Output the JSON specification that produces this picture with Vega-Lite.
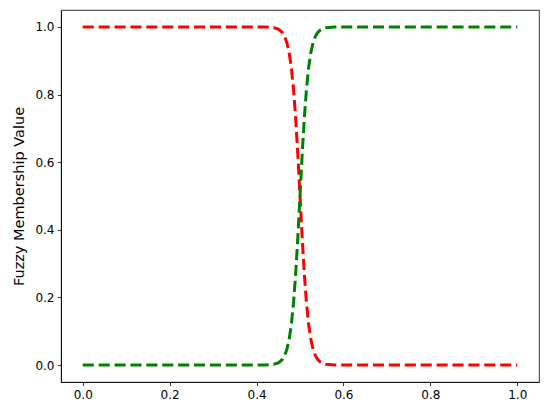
{
  "$schema": "https://vega.github.io/schema/vega-lite/v6.json",
  "width": 478,
  "height": 372,
  "autosize": "none",
  "padding": {"left": 61, "top": 10, "right": 11, "bottom": 32},
  "background": "white",
  "config": {
    "view": {"stroke": "black", "strokeWidth": 0.8},
    "axis": {
      "grid": false,
      "domainColor": "black",
      "domainWidth": 0.8,
      "tickColor": "black",
      "tickWidth": 0.8,
      "tickSize": 3.5,
      "labelPadding": 3.5,
      "labelFont": "DejaVu Sans",
      "labelFontSize": 12,
      "labelColor": "black",
      "titleFont": "DejaVu Sans",
      "titleFontSize": 14.5,
      "titleFontWeight": "normal",
      "titleColor": "black"
    }
  },
  "data": {
    "values": [
      {"x": 0.0, "low": 1.0, "high": 0.0},
      {"x": 0.1, "low": 1.0, "high": 0.0},
      {"x": 0.2, "low": 1.0, "high": 0.0},
      {"x": 0.3, "low": 1.0, "high": 0.0},
      {"x": 0.4, "low": 1.0, "high": 0.0},
      {"x": 0.42, "low": 0.9997, "high": 0.0003},
      {"x": 0.44, "low": 0.9975, "high": 0.0025},
      {"x": 0.45, "low": 0.9933, "high": 0.0067},
      {"x": 0.455, "low": 0.989, "high": 0.011},
      {"x": 0.46, "low": 0.982, "high": 0.018},
      {"x": 0.465, "low": 0.9707, "high": 0.0293},
      {"x": 0.47, "low": 0.9526, "high": 0.0474},
      {"x": 0.475, "low": 0.9241, "high": 0.0759},
      {"x": 0.48, "low": 0.8808, "high": 0.1192},
      {"x": 0.485, "low": 0.8176, "high": 0.1824},
      {"x": 0.49, "low": 0.7311, "high": 0.2689},
      {"x": 0.495, "low": 0.6225, "high": 0.3775},
      {"x": 0.5, "low": 0.5, "high": 0.5},
      {"x": 0.505, "low": 0.3775, "high": 0.6225},
      {"x": 0.51, "low": 0.2689, "high": 0.7311},
      {"x": 0.515, "low": 0.1824, "high": 0.8176},
      {"x": 0.52, "low": 0.1192, "high": 0.8808},
      {"x": 0.525, "low": 0.0759, "high": 0.9241},
      {"x": 0.53, "low": 0.0474, "high": 0.9526},
      {"x": 0.535, "low": 0.0293, "high": 0.9707},
      {"x": 0.54, "low": 0.018, "high": 0.982},
      {"x": 0.545, "low": 0.011, "high": 0.989},
      {"x": 0.55, "low": 0.0067, "high": 0.9933},
      {"x": 0.56, "low": 0.0025, "high": 0.9975},
      {"x": 0.58, "low": 0.0003, "high": 0.9997},
      {"x": 0.6, "low": 0.0, "high": 1.0},
      {"x": 0.7, "low": 0.0, "high": 1.0},
      {"x": 0.8, "low": 0.0, "high": 1.0},
      {"x": 0.9, "low": 0.0, "high": 1.0},
      {"x": 1.0, "low": 0.0, "high": 1.0}
    ]
  },
  "encoding": {
    "x": {
      "field": "x",
      "type": "quantitative",
      "scale": {"domain": [-0.05, 1.05], "nice": false, "zero": false},
      "axis": {"values": [0, 0.2, 0.4, 0.6, 0.8, 1.0], "format": ".1f", "title": null}
    }
  },
  "layer": [
    {
      "mark": {"type": "line", "color": "#ff0000", "strokeWidth": 3, "strokeDash": [11.1, 4.8], "clip": true},
      "encoding": {
        "y": {
          "field": "low",
          "type": "quantitative",
          "scale": {"domain": [-0.05, 1.05], "nice": false, "zero": false},
          "axis": {"values": [0, 0.2, 0.4, 0.6, 0.8, 1.0], "format": ".1f", "title": "Fuzzy Membership Value", "titlePadding": 8}
        }
      }
    },
    {
      "mark": {"type": "line", "color": "#008000", "strokeWidth": 3, "strokeDash": [11.1, 4.8], "clip": true},
      "encoding": {
        "y": {"field": "high", "type": "quantitative"}
      }
    }
  ]
}
